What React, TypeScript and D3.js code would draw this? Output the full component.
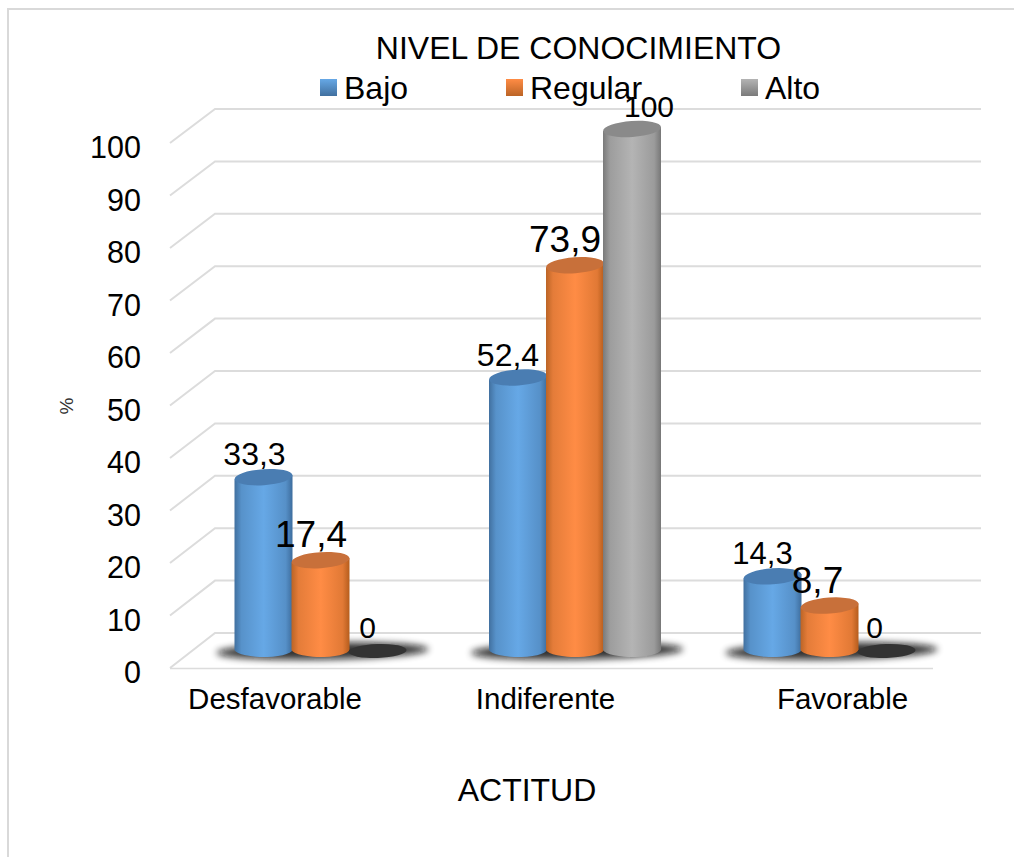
import React from 'react';
import * as d3 from 'd3';

const categories = ['Desfavorable', 'Indiferente', 'Favorable'];
const seriesNames = ['Bajo', 'Regular', 'Alto'];
const bajo = [33.3, 52.4, 14.3];
const regular = [17.4, 73.9, 8.7];
const alto = [0, 100, 0];
const seriesValues = [bajo, regular, alto];
const yTicks = d3.range(0, 101, 10);
const labelSizes = [[32, 37, 30], [32, 37, 30], [31, 37, 30]];
const labelDx = [[-9, -9.5, -10], [-10, -10, 17], [-10, -12, -12]];
const labelDy = [[-11, -12, -12], [-10, -12, -11], [-11, -12, -12]];
const categoryX = [275, 545.5, 842.5];
const legendX = [320, 506, 741];
const colors = [
  ['#41709f', '#66a8e6', '#3d6c9c', '#4a7db2'],
  ['#bb6426', '#ff8c45', '#b45c1c', '#c8703a'],
  ['#7a7a7a', '#b4b4b4', '#767676', '#8a8a8a'],
];

const font = '"Liberation Sans", Arial, sans-serif';

export default function App() {
  const yFront = d3.scaleLinear().domain([0, 100]).range([668, 143]);
  const yBack = d3.scaleLinear().domain([0, 100]).range([633, 109]);
  const yBar = d3.scaleLinear().domain([0, 100]).range([650, 128]);
  const xGroup = d3.scaleBand<string>().domain(categories).range([194, 957.5]);
  const xSeries = d3.scaleBand<string>().domain(seriesNames).range([41, 212]);
  const rx = 29;
  const ry = 8;
  return (
    <svg width={1014} height={857} style={{ position: 'absolute', left: 0, top: 0, fontFamily: font }}>
      <defs>
        {colors.map((c, i) => (
          <React.Fragment key={i}>
            <linearGradient id={`body${i}`} x1="0" x2="1" y1="0" y2="0">
              <stop offset="0" stopColor={c[0]} />
              <stop offset="0.12" stopColor={d3.interpolateRgb(c[0], c[1])(0.6)} />
              <stop offset="0.5" stopColor={c[1]} />
              <stop offset="0.88" stopColor={d3.interpolateRgb(c[2], c[1])(0.6)} />
              <stop offset="1" stopColor={c[2]} />
            </linearGradient>
            <linearGradient id={`leg${i}`} x1="0" x2="0" y1="0" y2="1">
              <stop offset="0" stopColor={c[1]} />
              <stop offset="1" stopColor={c[0]} />
            </linearGradient>
          </React.Fragment>
        ))}
        <filter id="blur" x="-30%" y="-150%" width="160%" height="400%">
          <feGaussianBlur stdDeviation="3.5" />
        </filter>
      </defs>
      <path d="M8 857V9H1014" fill="none" stroke="#d9d9d9" strokeWidth={2} />
      {yTicks.map(t => (
        <path key={t} d={`M170 ${yFront(t)}L215 ${yBack(t)}H981`} fill="none" stroke="#dcdcdc" strokeWidth={2} />
      ))}
      <line x1={170} x2={933} y1={668.5} y2={668.5} stroke="#dcdcdc" strokeWidth={1.5} />
      {yTicks.map(t => (
        <text key={t} x={141} y={yFront(t) + 15} textAnchor="end" fontSize={30.5} fill="#000">{t}</text>
      ))}
      <text x={73} y={406} fontSize={19} fill="#333" textAnchor="middle" transform="rotate(-90 73 406)">%</text>
      {categories.map(cat => {
        const gx = xGroup(cat)!;
        const cx = gx + xSeries.bandwidth() * 1.5 + 41 + 2;
        return (
          <ellipse key={cat} cx={cx} cy={651} rx={106} ry={8.5} fill="#111" opacity={0.85} filter="url(#blur)" transform={`rotate(-1 ${cx} 651)`} />
        );
      })}
      {categories.map((cat, ci) => {
        const gx = xGroup(cat)!;
        return seriesNames.map((s, si) => {
          const v = seriesValues[si][ci];
          const cx = gx + xSeries(s)! + xSeries.bandwidth() / 2;
          const top = yBar(v);
          const base = yBar(0);
          if (v === 0) {
            return <ellipse key={s} cx={cx} cy={base + 1} rx={rx} ry={7} fill="#333" transform={`rotate(-2 ${cx} ${base})`} />;
          }
          return (
            <g key={s}>
              <path
                d={`M${cx - rx} ${top + 3}V${base}A${rx} ${ry} 0 0 0 ${cx + rx} ${base - 2}V${top - 1}Z`}
                fill={`url(#body${si})`}
              />
              <ellipse cx={cx} cy={top + 1} rx={rx} ry={ry} fill={colors[si][3]} transform={`rotate(-4 ${cx} ${top})`} />
            </g>
          );
        });
      })}
      {categories.map((cat, ci) => {
        const gx = xGroup(cat)!;
        return seriesNames.map((s, si) => {
          const v = seriesValues[si][ci];
          const cx = gx + xSeries(s)! + xSeries.bandwidth() / 2;
          return (
            <text key={s} x={cx + labelDx[ci][si]} y={yBar(v) + labelDy[ci][si]} textAnchor="middle" fontSize={labelSizes[ci][si]} fill="#000">
              {String(v).replace('.', ',')}
            </text>
          );
        });
      })}
      {categories.map((cat, ci) => (
        <text key={cat} x={categoryX[ci]} y={709} textAnchor="middle" fontSize={29.5} fill="#000">{cat}</text>
      ))}
      <text x={578.5} y={58.5} textAnchor="middle" fontSize={32} fill="#000">NIVEL DE CONOCIMIENTO</text>
      {seriesNames.map((s, i) => (
        <g key={s}>
          <rect x={legendX[i]} y={79} width={17} height={17} fill={`url(#leg${i})`} />
          <text x={legendX[i] + 24} y={98.5} fontSize={32} fill="#000">{s}</text>
        </g>
      ))}
      <text x={527} y={801} textAnchor="middle" fontSize={32} fill="#000">ACTITUD</text>
    </svg>
  );
}
